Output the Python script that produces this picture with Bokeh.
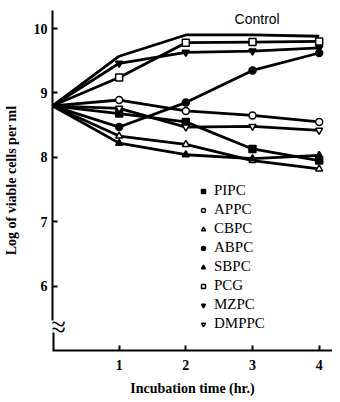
from bokeh.plotting import figure
from bokeh.models import Range1d, FixedTicker, Legend, LegendItem, Label
from bokeh.embed import file_html
from bokeh.resources import INLINE

hours = [0, 1, 2, 3, 4]
control = [8.8, 9.57, 9.90, 9.90, 9.88]
pipc = [8.8, 8.68, 8.55, 8.13, 7.95]
appc = [8.8, 8.89, 8.72, 8.65, 8.55]
cbpc = [8.8, 8.33, 8.20, 7.95, 7.82]
abpc = [8.8, 8.47, 8.85, 9.35, 9.62]
sbpc = [8.8, 8.22, 8.04, 7.98, 8.03]
pcg = [8.8, 9.24, 9.78, 9.79, 9.80]
mzpc = [8.8, 9.46, 9.63, 9.65, 9.70]
dmppc = [8.8, 8.76, 8.47, 8.48, 8.42]

series_names = ["PIPC", "APPC", "CBPC", "ABPC", "SBPC", "PCG", "MZPC", "DMPPC"]
series_values = [pipc, appc, cbpc, abpc, sbpc, pcg, mzpc, dmppc]
series_markers = ["square", "circle", "triangle", "circle", "triangle", "square",
                  "inverted_triangle", "inverted_triangle"]
series_filled = [True, False, False, True, True, False, True, False]
y_ticks = [6, 7, 8, 9, 10]
x_ticks = [1, 2, 3, 4]
y_start, y_end = 5.0, 10.28
break_low, break_high = 5.28, 5.46

p = figure(width=332, height=398, output_backend="svg", toolbar_location=None,
           x_range=Range1d(0, 4.2), y_range=Range1d(y_start, y_end),
           min_border_left=50, min_border_right=0, min_border_top=10,
           min_border_bottom=46)
p.outline_line_color = None
p.grid.grid_line_color = None
p.background_fill_color = "white"

for ax in (p.xaxis[0], p.yaxis[0]):
    ax.axis_line_width = 2
    ax.axis_line_color = "black"
    ax.major_tick_in = 5
    ax.major_tick_out = 0
    ax.major_tick_line_width = 2
    ax.minor_tick_line_color = None
    ax.major_label_text_font = "Liberation Serif"
    ax.major_label_text_font_style = "bold"
    ax.major_label_text_font_size = "14px"
    ax.major_label_text_color = "black"
    ax.axis_label_text_font = "Liberation Serif"
    ax.axis_label_text_font_style = "bold"
    ax.axis_label_text_color = "black"

p.xaxis.ticker = FixedTicker(ticks=x_ticks)
p.yaxis.ticker = FixedTicker(ticks=y_ticks)
p.yaxis.bounds = (break_high, y_end)
p.xaxis.axis_label = "Incubation time (hr.)"
p.yaxis.axis_label = "Log of viable cells per ml"
p.xaxis.axis_label_text_font_size = "14px"
p.yaxis.axis_label_text_font_size = "14px"
p.xaxis.major_label_standoff = 9
p.xaxis.axis_label_standoff = 8
p.yaxis.major_label_standoff = 5
p.yaxis.axis_label_standoff = 12

# lower stub of the broken y axis
p.segment(x0=[0], y0=[y_start], x1=[0], y1=[break_low], line_color="black", line_width=4)

p.line(hours, control, line_color="black", line_width=2.8)

items = []
for name, vals, mk, filled in zip(series_names, series_values, series_markers, series_filled):
    p.line(hours, vals, line_color="black", line_width=2.8)
    r = p.scatter(hours[1:], vals[1:], marker=mk, size=7,
                  fill_color="black" if filled else "white",
                  line_color="black", line_width=1.5)
    items.append(LegendItem(label=name, renderers=[r]))

legend = Legend(items=items, location=(146, 18), orientation="vertical",
                border_line_color=None, background_fill_alpha=0,
                label_text_font="Liberation Serif", label_text_font_size="15px",
                label_text_color="black", label_height=14, glyph_height=14,
                glyph_width=10, spacing=2, padding=0, margin=0, label_standoff=6)
p.add_layout(legend)

p.add_layout(Label(x=3.07, y=10.03, text="Control", text_font="Liberation Sans",
                   text_font_size="14px", text_align="center", text_color="black"))
p.add_layout(Label(x=0, y=(break_low + break_high) / 2, text="≈",
                   text_font="Liberation Serif", text_font_size="30px",
                   text_align="left", x_offset=-3,
                   text_baseline="middle", text_color="black"))

open("out.html", "w").write(file_html(p, INLINE))
